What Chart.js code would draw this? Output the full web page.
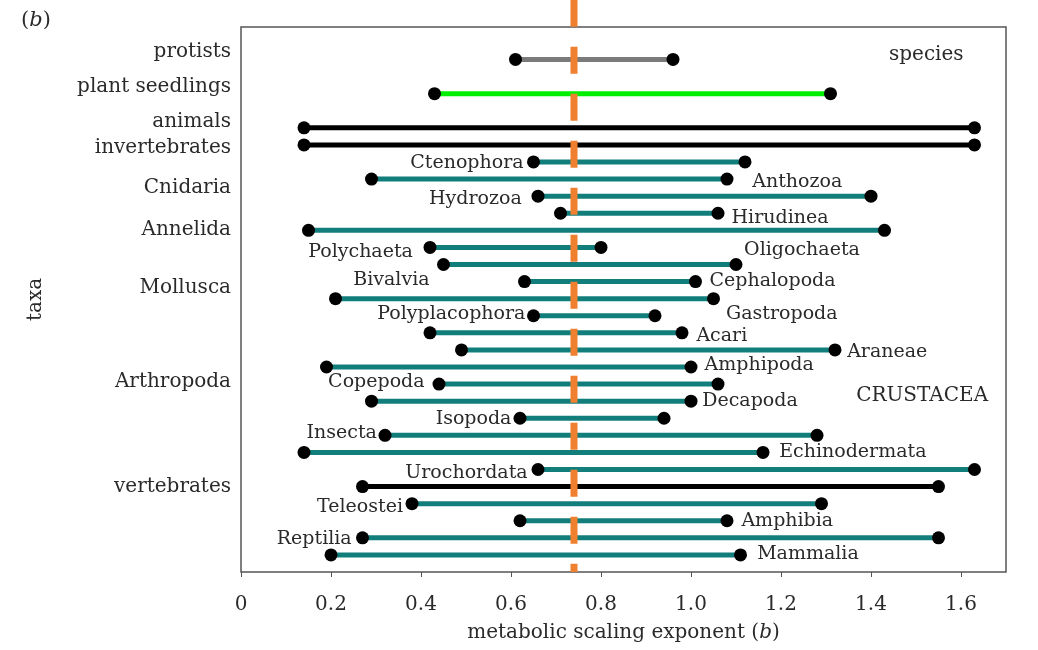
<!DOCTYPE html>
<html lang="en">
<head>
<meta charset="UTF-8">
<title>Metabolic scaling exponent by taxa</title>
<script src="https://cdn.jsdelivr.net/npm/chart.js"></script>
<style>
  html, body { margin: 0; padding: 0; background: #fff; }
  #wrap { width: 1038px; height: 650px; }
</style>
</head>
<body>
<div id="wrap"><canvas id="grafico"></canvas></div>
<script>
// one row per range, top to bottom (slot = row position, first rows are spaced out)
const rowNames = ["protists", "plant seedlings", "animals", "invertebrates", "Ctenophora", "Anthozoa",
  "Hydrozoa", "Hirudinea", "Annelida", "Polychaeta", "Oligochaeta", "Cephalopoda", "Gastropoda",
  "Polyplacophora", "Acari", "Araneae", "Amphipoda", "Copepoda", "Decapoda", "Isopoda", "Insecta",
  "Echinodermata", "Urochordata", "vertebrates", "Teleostei", "Amphibia", "Reptilia", "Mammalia"];
const rowSlot = [0, 2, 4, 5, 6, 7, 8, 9, 10, 11, 12, 13, 14, 15, 16, 17, 18, 19, 20, 21, 22, 23, 24, 25, 26, 27, 28, 29];
const bMin = [0.61, 0.43, 0.14, 0.14, 0.65, 0.29, 0.66, 0.71, 0.15, 0.42, 0.45, 0.63, 0.21, 0.65,
  0.42, 0.49, 0.19, 0.44, 0.29, 0.62, 0.32, 0.14, 0.66, 0.27, 0.38, 0.62, 0.27, 0.20];
const bMax = [0.96, 1.31, 1.63, 1.63, 1.12, 1.08, 1.40, 1.06, 1.43, 0.80, 1.10, 1.01, 1.05, 0.92,
  0.98, 1.32, 1.00, 1.06, 1.00, 0.94, 1.28, 1.16, 1.63, 1.55, 1.29, 1.08, 1.55, 1.11];
const rowKind = ["protist", "plant", "group", "group", "taxon", "taxon", "taxon", "taxon", "taxon",
  "taxon", "taxon", "taxon", "taxon", "taxon", "taxon", "taxon", "taxon", "taxon", "taxon", "taxon",
  "taxon", "taxon", "taxon", "group", "taxon", "taxon", "taxon", "taxon"];

// left-hand labels (y axis ticks)
const groupLabels = ["protists", "plant seedlings", "animals", "invertebrates", "Cnidaria", "Annelida",
  "Mollusca", "Arthropoda", "vertebrates"];
const groupSlots = [-0.45, 1.6, 3.65, 5.15, 7.5, 9.95, 13.35, 18.85, 25.0];

// labels inside the plot
const noteText = ["species", "Ctenophora", "Anthozoa", "Hydrozoa", "Hirudinea", "Polychaeta", "Oligochaeta",
  "Bivalvia", "Cephalopoda", "Polyplacophora", "Gastropoda", "Acari", "Araneae", "Amphipoda", "Copepoda",
  "CRUSTACEA", "Decapoda", "Isopoda", "Insecta", "Echinodermata", "Urochordata", "Teleostei", "Amphibia",
  "Reptilia", "Mammalia"];
const noteB = [1.44, 0.628, 1.136, 0.624, 1.09, 0.382, 1.118, 0.419, 1.041, 0.632, 1.078, 1.012, 1.347,
  1.03, 0.408, 1.367, 1.025, 0.601, 0.302, 1.196, 0.637, 0.36, 1.112, 0.246, 1.147];
const noteSlot = [-0.27, 6.05, 7.15, 8.2, 9.27, 11.3, 11.13, 12.9, 13.0, 14.93, 14.93, 16.2, 17.15, 17.87,
  18.9, 19.67, 20.0, 21.07, 21.85, 23.0, 24.2, 26.2, 27.04, 28.1, 28.96];
const noteSide = ["left", "right", "left", "right", "left", "right", "left", "right", "left", "right",
  "left", "left", "left", "left", "right", "left", "left", "right", "right", "left", "right", "right",
  "left", "right", "left"];

const refB = 0.74;   // dashed reference exponent
const xTicks = [0, 0.2, 0.4, 0.6, 0.8, 1.0, 1.2, 1.4, 1.6];

const kindColor = { protist: "#7a7a7a", plant: "#00ee00", group: "#000000", taxon: "#127e7c" };
const serif = "'DejaVu Serif', 'Liberation Serif', serif";
const textColor = "#2a2a2a";

const datasets = rowNames.map((name, i) => ({
  label: name,
  data: [{ x: bMin[i], y: rowSlot[i] }, { x: bMax[i], y: rowSlot[i] }],
  showLine: true,
  borderColor: kindColor[rowKind[i]],
  borderWidth: 5,
  pointRadius: 6.5,
  pointHoverRadius: 6.5,
  pointBackgroundColor: "#000",
  pointBorderWidth: 0,
  order: 2
}));

datasets.push({
  label: "reference",
  data: [{ x: refB, y: -3.5 }, { x: refB, y: 30 }],
  showLine: true,
  borderColor: "#ee8030",
  borderWidth: 7,
  borderDash: [27, 20],
  borderCapStyle: "butt",
  pointRadius: 0,
  clip: false,
  order: 1
});

const extras = {
  id: "extras",
  beforeDatasetsDraw(chart) {
    const { ctx, chartArea: a } = chart;
    ctx.save();
    ctx.strokeStyle = "#555";
    ctx.lineWidth = 1.5;
    ctx.strokeRect(a.left, a.top, a.right - a.left, a.bottom - a.top);
    ctx.restore();
  },
  afterDatasetsDraw(chart) {
    const { ctx, chartArea: a } = chart;
    const xs = chart.scales.x, ys = chart.scales.y;
    ctx.save();
    ctx.fillStyle = textColor;
    ctx.textBaseline = "middle";
    noteText.forEach((t, i) => {
      const big = (t === "species" || t === "CRUSTACEA");
      ctx.font = (big ? 20 : 19) + "px " + serif;
      ctx.textAlign = noteSide[i];
      ctx.fillText(t, xs.getPixelForValue(noteB[i]), ys.getPixelForValue(noteSlot[i]));
    });

    // x axis title with italic b
    const parts = [["metabolic scaling exponent (", "normal"], ["b", "italic"], [")", "normal"]];
    let total = 0;
    parts.forEach(p => { ctx.font = p[1] + " 20px " + serif; total += ctx.measureText(p[0]).width; });
    let px = (a.left + a.right) / 2 - total / 2;
    ctx.textAlign = "left";
    parts.forEach(p => {
      ctx.font = p[1] + " 20px " + serif;
      ctx.fillText(p[0], px, 633);
      px += ctx.measureText(p[0]).width;
    });

    // panel label
    const pl = [["(", "normal"], ["b", "italic"], [")", "normal"]];
    px = 21;
    pl.forEach(p => {
      ctx.font = p[1] + " 21px " + serif;
      ctx.fillText(p[0], px, 21);
      px += ctx.measureText(p[0]).width;
    });
    ctx.restore();
  }
};

new Chart(document.getElementById("grafico"), {
  type: "scatter",
  data: { datasets },
  options: {
    responsive: true,
    maintainAspectRatio: false,
    animation: false,
    devicePixelRatio: 1,
    layout: { padding: { top: 27, right: 32, left: 0, bottom: 0 } },
    plugins: { legend: { display: false }, tooltip: { enabled: false } },
    scales: {
      x: {
        type: "linear",
        min: 0,
        max: 1.7,
        afterBuildTicks: s => { s.ticks = xTicks.map(v => ({ value: v })); },
        afterFit: s => { s.height = 78; },
        grid: { drawOnChartArea: false, tickLength: 5, color: "#555" },
        border: { display: false },
        ticks: {
          autoSkip: false,
          maxRotation: 0,
          padding: 16,
          color: textColor,
          font: { family: serif, size: 20 },
          callback: v => v === 0 ? "0" : v.toFixed(1)
        }
      },
      y: {
        type: "linear",
        reverse: true,
        min: -1.9,
        max: 30,
        afterBuildTicks: s => { s.ticks = groupSlots.map(v => ({ value: v })); },
        afterFit: s => { s.width = 241; },
        grid: { display: false, drawTicks: false },
        border: { display: false },
        title: {
          display: true,
          text: "taxa",
          color: textColor,
          font: { family: serif, size: 20 },
          padding: { top: 24, bottom: 0 }
        },
        ticks: {
          autoSkip: false,
          padding: 10,
          color: textColor,
          font: { family: serif, size: 20 },
          callback: (v, i) => groupLabels[i]
        }
      }
    }
  },
  plugins: [extras]
});
</script>
</body>
</html>
